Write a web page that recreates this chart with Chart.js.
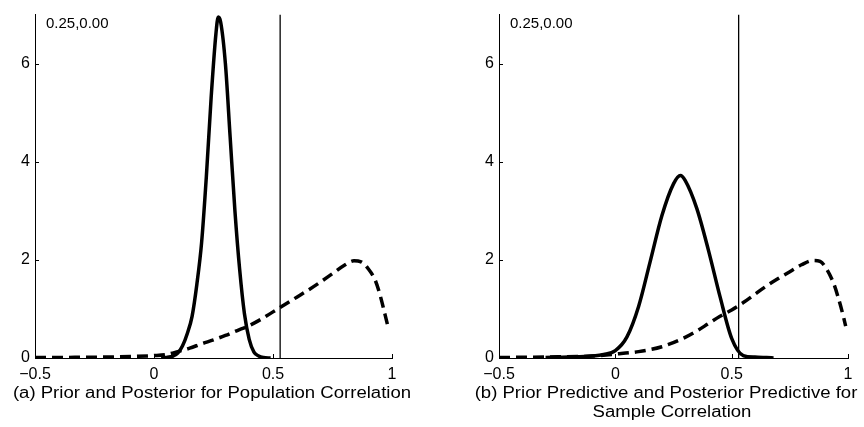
<!DOCTYPE html>
<html>
<head>
<meta charset="utf-8">
<script src="https://cdn.jsdelivr.net/npm/chart.js@4/dist/chart.umd.min.js"></script>
<style>
  html, body { margin: 0; padding: 0; background: #fff; }
  body { width: 864px; height: 427px; position: relative; overflow: hidden; font-family: "Liberation Sans", Arial, sans-serif; }
  canvas { position: absolute; top: 0; }
  .cap { position: absolute; font-size: 16px; color: #000; text-align: center; line-height: 19px; white-space: nowrap; width: 400px; transform: scaleX(1.16); transform-origin: 200px 0; }
  .ann { position: absolute; font-size: 15px; color: #000; }
</style>
</head>
<body>
<canvas id="cA" width="432" height="427" style="left:0px"></canvas>
<canvas id="cB" width="400" height="427" style="left:464px"></canvas>
<div class="ann" style="left:46px; top:14px">0.25,0.00</div>
<div class="ann" style="left:510px; top:14px">0.25,0.00</div>
<div class="cap" style="left:12px; top:383px">(a) Prior and Posterior for Population Correlation</div>
<div class="cap" style="left:466px; top:383px">(b) Prior Predictive and Posterior Predictive for</div>
<div class="cap" style="left:472px; top:402px">Sample Correlation</div>
<script>
// ---- data ----
const xTicks = [-0.5, 0, 0.5, 1];
const yTicks = [0, 2, 4, 6];
const observedR = 0.53;

// Panel (a): posterior (solid) for population correlation
const postX = [0.03, 0.05, 0.08, 0.10, 0.12, 0.14, 0.16, 0.18, 0.20, 0.22, 0.24, 0.26, 0.27, 0.28, 0.30, 0.32, 0.34, 0.36, 0.38, 0.40, 0.42, 0.44, 0.46, 0.49];
const postY = [0.00, 0.01, 0.04, 0.10, 0.25, 0.50, 0.85, 1.50, 2.35, 3.70, 5.30, 6.60, 6.95, 6.85, 6.00, 4.50, 3.00, 1.80, 0.90, 0.38, 0.12, 0.04, 0.01, 0.00];
// Panel (a): prior (dashed)
const priorX = [-0.5, -0.4, -0.3, -0.2, -0.1, 0.0, 0.05, 0.10, 0.15, 0.20, 0.25, 0.30, 0.35, 0.40, 0.45, 0.50, 0.55, 0.60, 0.65, 0.70, 0.75, 0.80, 0.84, 0.87, 0.90, 0.93, 0.95, 0.97, 0.985];
const priorY = [0.01, 0.01, 0.015, 0.02, 0.03, 0.05, 0.07, 0.13, 0.20, 0.29, 0.37, 0.46, 0.56, 0.66, 0.79, 0.94, 1.09, 1.24, 1.39, 1.55, 1.72, 1.89, 1.98, 1.96, 1.82, 1.58, 1.28, 0.90, 0.60];

// Panel (b): posterior predictive (solid) for sample correlation
const postPredX = [-0.3, -0.2, -0.1, -0.05, 0.0, 0.05, 0.10, 0.15, 0.20, 0.25, 0.28, 0.30, 0.35, 0.40, 0.45, 0.50, 0.55, 0.60, 0.65, 0.68];
const postPredY = [0.01, 0.02, 0.04, 0.07, 0.15, 0.43, 1.05, 1.97, 2.90, 3.55, 3.72, 3.62, 3.05, 2.20, 1.25, 0.40, 0.05, 0.02, 0.01, 0.00];
// Panel (b): prior predictive (dashed)
const priorPredX = [-0.5, -0.3, -0.1, 0.0, 0.10, 0.20, 0.30, 0.35, 0.40, 0.45, 0.50, 0.55, 0.60, 0.65, 0.70, 0.75, 0.80, 0.85, 0.88, 0.91, 0.94, 0.96, 0.98, 0.99];
const priorPredY = [0.01, 0.02, 0.04, 0.08, 0.13, 0.23, 0.42, 0.55, 0.70, 0.85, 0.98, 1.13, 1.30, 1.47, 1.62, 1.76, 1.90, 1.99, 1.97, 1.80, 1.50, 1.20, 0.85, 0.65];

const pts = (xs, ys) => xs.map((x, i) => ({ x: x, y: ys[i] }));

const tickMarks = {
  id: 'tickMarks',
  afterDraw(chart) {
    const ctx = chart.ctx, xs = chart.scales.x, ys = chart.scales.y;
    const a = chart.chartArea;
    ctx.save();
    ctx.strokeStyle = '#000';
    ctx.lineWidth = 1;
    ctx.beginPath();
    xTicks.forEach(v => { const p = Math.round(xs.getPixelForValue(v)) + 0.5; ctx.moveTo(p, a.bottom); ctx.lineTo(p, a.bottom - 4); });
    yTicks.forEach(v => { const p = Math.round(ys.getPixelForValue(v)) + 0.5; ctx.moveTo(a.left, p); ctx.lineTo(a.left + 4, p); });
    ctx.stroke();
    ctx.restore();
  }
};

function makeChart(id, solid, dashed, padRight) {
  const fmt = v => (v < 0 ? '\u2212' + String(Math.abs(v)) : String(v));
  return new Chart(document.getElementById(id), {
    type: 'line',
    data: {
      datasets: [
        { data: [{ x: observedR, y: 0 }, { x: observedR, y: 7 }], borderColor: '#000', borderWidth: 1.3, pointRadius: 0, tension: 0 },
        { data: dashed, borderColor: '#000', borderWidth: 3.5, borderDash: [11, 6], pointRadius: 0, cubicInterpolationMode: 'monotone' },
        { data: solid, borderColor: '#000', borderWidth: 3.5, pointRadius: 0, cubicInterpolationMode: 'monotone' }
      ]
    },
    options: {
      responsive: false,
      animation: false,
      devicePixelRatio: 1,
      layout: { padding: { left: 0, right: padRight, top: 8, bottom: 0 } },
      plugins: { legend: { display: false }, tooltip: { enabled: false } },
      scales: {
        x: {
          type: 'linear', min: -0.5, max: 1,
          afterBuildTicks: s => { s.ticks = xTicks.map(v => ({ value: v })); },
          afterFit: s => { s.height = 69; },
          grid: { display: false, drawTicks: false },
          border: { display: true, color: '#000', width: 1 },
          ticks: { color: '#000', padding: 7, maxRotation: 0, autoSkip: false, font: { family: 'Liberation Sans', size: 16 }, callback: v => fmt(v) }
        },
        y: {
          type: 'linear', min: 0, max: 7,
          afterBuildTicks: s => { s.ticks = yTicks.map(v => ({ value: v })); },
          afterFit: s => { s.width = 35; },
          grid: { display: false, drawTicks: false },
          border: { display: true, color: '#000', width: 1 },
          ticks: { color: '#000', padding: 5, autoSkip: false, font: { family: 'Liberation Sans', size: 16 }, callback: v => String(v) }
        }
      }
    },
    plugins: [tickMarks]
  });
}

makeChart('cA', pts(postX, postY), pts(priorX, priorY), 40);
makeChart('cB', pts(postPredX, postPredY), pts(priorPredX, priorPredY), 16);
</script>
</body>
</html>
